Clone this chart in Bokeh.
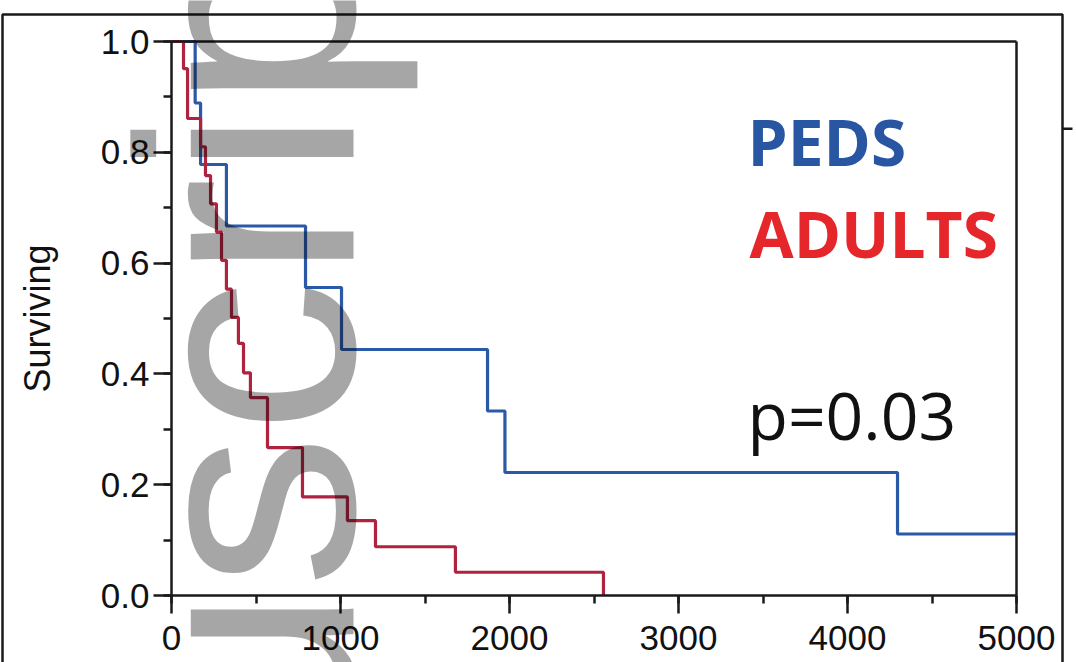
import math
from bokeh.plotting import figure
from bokeh.models import (Range1d, SingleIntervalTicker, PrintfTickFormatter,
                          FixedTicker, Label, BoxAnnotation, LinearAxis)
from bokeh.embed import file_html
from bokeh.resources import INLINE

# ---- data ----
peds_days = [0, 140, 172, 325, 793, 1006, 1870, 1973, 4296, 5000]
peds_surv = [1.0, 0.889, 0.778, 0.667, 0.556, 0.444, 0.333, 0.222, 0.111, 0.111]

adult_days = [0, 71, 95, 172, 201, 231, 266, 296, 325, 355, 396, 426, 467,
              568, 775, 1041, 1207, 1680, 2556]
adult_surv = [1.0, 0.951, 0.861, 0.810, 0.758, 0.707, 0.656, 0.605, 0.553,
              0.502, 0.455, 0.402, 0.357, 0.267, 0.178, 0.135, 0.088, 0.042, 0.0]

x_start, x_end, x_step = 0, 5000, 1000
y_start, y_end, y_step = 0.0, 1.0, 0.2

group_labels = ["PEDS", "ADULTS"]
p_value_text = "p=0.03"
y_title = "Surviving"
watermark_text = "Manuscript"

# ---- layout (pixels) ----
W, H = 1076, 662
PL, PR, PT, PB = 171, 1016, 41, 595      # inner plot box on the canvas
INK = "#1a1a1a"
BLUE = "#2a59a8"
RED = "#b0233f"

# the frame covers the whole canvas; ranges are widened so that the data
# box [x_start, x_end] x [y_start, y_end] lands on the inner plot box
sx = (x_end - x_start) / (PR - PL)
sy = (y_end - y_start) / (PB - PT)
xr = Range1d(x_start - PL * sx, x_end + (W - PR) * sx)
yr = Range1d(y_start - (H - PB) * sy, y_end + PT * sy)

p = figure(width=W, height=H, output_backend="svg", toolbar_location=None,
           x_range=xr, y_range=yr, x_axis_location=None, y_axis_location=None,
           min_border=0, title=None)
p.background_fill_color = "white"
p.border_fill_color = "white"
p.outline_line_color = None
p.xgrid.visible = False
p.ygrid.visible = False


def style_axis(ax):
    ax.axis_line_color = INK
    ax.axis_line_width = 2.5
    ax.major_tick_line_color = INK
    ax.major_tick_line_width = 2.5
    ax.minor_tick_line_color = INK
    ax.minor_tick_line_width = 2.5
    ax.major_tick_out = 18
    ax.major_tick_in = 0
    ax.minor_tick_out = 8
    ax.minor_tick_in = 0
    ax.major_label_text_font = "Liberation Sans"
    ax.major_label_text_font_size = "35px"
    ax.major_label_text_color = "#111111"


xaxis = LinearAxis(fixed_location=y_start, bounds=(x_start, x_end),
                   ticker=SingleIntervalTicker(interval=x_step, num_minor_ticks=2))
style_axis(xaxis)
xaxis.major_label_standoff = 12
p.add_layout(xaxis, "below")

yaxis = LinearAxis(fixed_location=x_start, bounds=(y_start, y_end),
                   ticker=SingleIntervalTicker(interval=y_step, num_minor_ticks=2),
                   formatter=PrintfTickFormatter(format="%.1f"))
style_axis(yaxis)
yaxis.major_label_standoff = 4
yaxis.axis_label = y_title
yaxis.axis_label_text_font = "Liberation Sans"
yaxis.axis_label_text_font_size = "36px"
yaxis.axis_label_text_font_style = "normal"
yaxis.axis_label_text_color = "#111111"
yaxis.axis_label_standoff = 40
p.add_layout(yaxis, "left")

# closing lines of the plot box (top and right), no ticks
top_axis = LinearAxis(fixed_location=y_end, bounds=(x_start, x_end),
                      ticker=FixedTicker(ticks=[]), axis_line_color=INK,
                      axis_line_width=2.5, major_label_text_alpha=0)
p.add_layout(top_axis, "above")
right_axis = LinearAxis(fixed_location=x_end, bounds=(y_start, y_end),
                        ticker=FixedTicker(ticks=[]), axis_line_color=INK,
                        axis_line_width=2.5, major_label_text_alpha=0)
p.add_layout(right_axis, "right")

p.step(peds_days, peds_surv, mode="after", line_color=BLUE, line_width=3.2)
p.step(adult_days, adult_surv, mode="after", line_color=RED, line_width=3.2)

# legend-like texts (canvas units, y measured from the top)
p.add_layout(Label(x=747, y=141, x_units="canvas", y_units="canvas",
                   text=group_labels[0], text_font="Open Sans",
                   text_font_style="bold", text_font_size="64px",
                   text_color="#2856a3", text_baseline="alphabetic"))
p.add_layout(Label(x=749, y=233, x_units="canvas", y_units="canvas",
                   text=group_labels[1], text_font="Open Sans",
                   text_font_style="bold", text_font_size="64px",
                   text_color="#e5262a", text_baseline="alphabetic"))
p.add_layout(Label(x=747, y=413, x_units="canvas", y_units="canvas",
                   text=p_value_text, text_font="Open Sans",
                   text_font_size="66px", text_color="#111111",
                   text_baseline="alphabetic"))

# outer frame of the source figure
p.add_layout(BoxAnnotation(left=2, right=1062, top=14, bottom=700,
                           left_units="canvas", right_units="canvas",
                           top_units="canvas", bottom_units="canvas",
                           fill_alpha=0, line_color=INK, line_alpha=1,
                           line_width=2.5))
p.add_layout(BoxAnnotation(left=1062, right=1072, top=127, bottom=129.5,
                           left_units="canvas", right_units="canvas",
                           top_units="canvas", bottom_units="canvas",
                           fill_color=INK, fill_alpha=1, line_alpha=0))

# watermark
p.add_layout(Label(x=246, y=1358, x_units="canvas", y_units="canvas",
                   text=watermark_text, angle=math.pi / 2,
                   text_font="Liberation Sans", text_font_size="308px",
                   text_color="black", text_alpha=0.35,
                   text_baseline="alphabetic", text_align="left",
                   level="overlay"))

open("out.html", "w").write(file_html(p, INLINE))
